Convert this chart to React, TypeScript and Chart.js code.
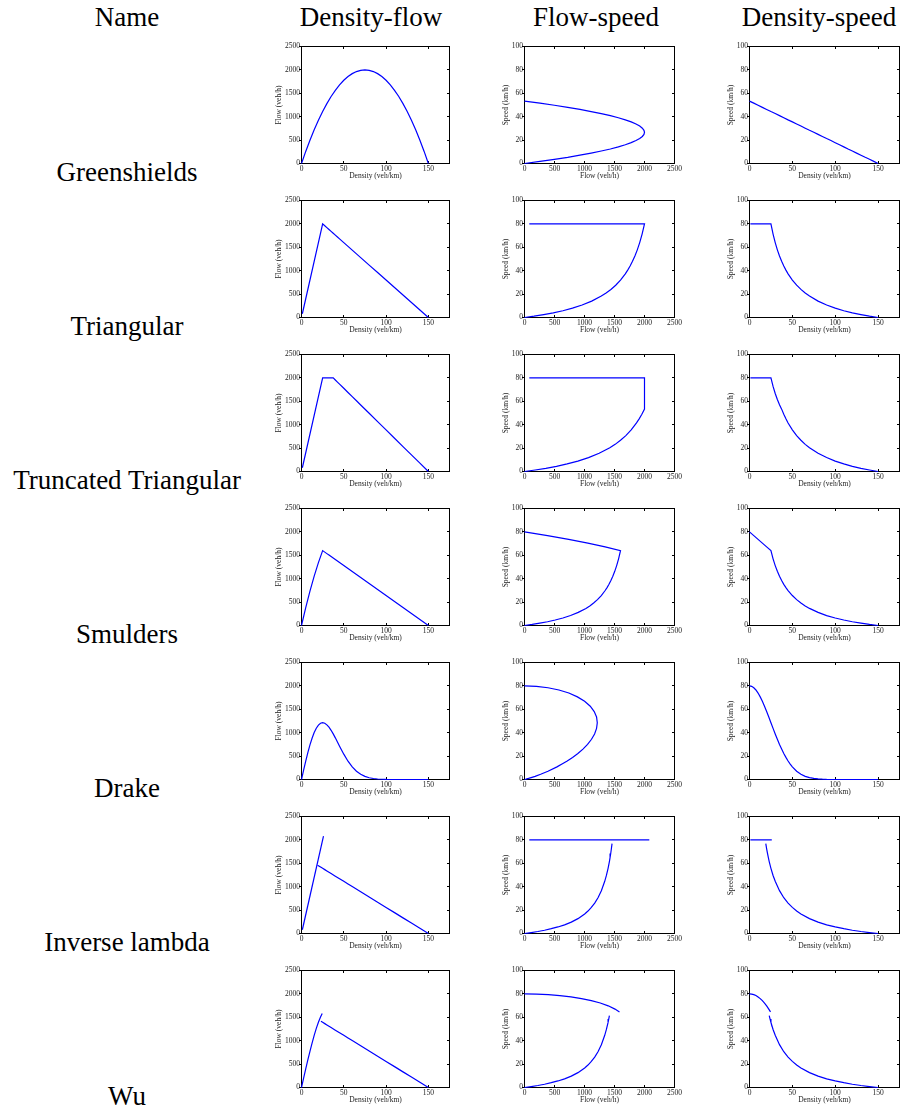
import React, { useEffect, useRef } from 'react';
import { Chart, registerables } from 'chart.js';
Chart.register(...registerables);

// ---------- text ----------
const COLUMN_HEADERS = ['Name', 'Density-flow', 'Flow-speed', 'Density-speed'];
const MODEL_NAMES = ['Greenshields', 'Triangular', 'Truncated Triangular', 'Smulders', 'Drake', 'Inverse lambda', 'Wu'];

// ---------- ticks ----------
const DENSITY_TICKS = [0, 50, 100, 150];
const FLOW_TICKS = [0, 500, 1000, 1500, 2000, 2500];
const SPEED_TICKS = [0, 20, 40, 60, 80, 100];
const DENSITY_MAX = 175;
const FLOW_MAX = 2500;
const SPEED_MAX = 100;
const DENSITY_TITLE = 'Density (veh/km)';
const FLOW_TITLE = 'Flow (veh/h)';
const SPEED_TITLE = 'Speed (km/h)';

// ---------- data: density k (veh/km), flow q (veh/h), speed v (km/h) ----------
// Greenshields
const GS_K = [0, 5, 10, 15, 20, 25, 30, 35, 40, 45, 50, 55, 60, 65, 70, 75, 80, 85, 90, 95, 100, 105, 110, 115, 120, 125, 130, 135, 140, 145, 150];
const GS_Q = [0, 258, 498, 720, 924, 1111, 1280, 1431, 1564, 1680, 1778, 1858, 1920, 1964, 1991, 2000, 1991, 1964, 1920, 1858, 1778, 1680, 1564, 1431, 1280, 1111, 924, 720, 498, 258, 0];
const GS_V = [53.3, 51.6, 49.8, 48.0, 46.2, 44.4, 42.7, 40.9, 39.1, 37.3, 35.6, 33.8, 32.0, 30.2, 28.4, 26.7, 24.9, 23.1, 21.3, 19.6, 17.8, 16.0, 14.2, 12.4, 10.7, 8.9, 7.1, 5.3, 3.6, 1.8, 0];

// Triangular
const TRI_K = [1, 25, 27.5, 30, 32.5, 35, 37.5, 40, 42.5, 45, 50, 55, 60, 65, 70, 80, 90, 100, 110, 120, 130, 140, 150];
const TRI_Q = [80, 2000, 1960, 1920, 1880, 1840, 1800, 1760, 1720, 1680, 1600, 1520, 1440, 1360, 1280, 1120, 960, 800, 640, 480, 320, 160, 0];
const TRI_V = [80, 80, 71.3, 64, 57.8, 52.6, 48, 44, 40.5, 37.3, 32, 27.6, 24, 20.9, 18.3, 14, 10.7, 8, 5.8, 4, 2.5, 1.1, 0];

// Truncated triangular
const TT_K = [1, 25, 27.5, 30, 32.5, 35, 37.5, 40, 42.5, 45, 50, 55, 60, 65, 70, 80, 90, 100, 110, 120, 130, 140, 150];
const TT_Q = [80, 2000, 2000, 2000, 2000, 2000, 2000, 1956, 1911, 1867, 1778, 1689, 1600, 1511, 1422, 1244, 1067, 889, 711, 533, 356, 178, 0];
const TT_V = [80, 80, 72.7, 66.7, 61.5, 57.1, 53.3, 48.9, 45.0, 41.5, 35.6, 30.7, 26.7, 23.2, 20.3, 15.6, 11.9, 8.9, 6.5, 4.4, 2.7, 1.3, 0];

// Smulders
const SM_K = [0, 5, 10, 15, 20, 25, 27.5, 30, 32.5, 35, 37.5, 40, 42.5, 45, 50, 55, 60, 65, 70, 80, 90, 100, 110, 120, 130, 140, 150];
const SM_Q = [0, 384, 736, 1056, 1344, 1600, 1568, 1536, 1504, 1472, 1440, 1408, 1376, 1344, 1280, 1216, 1152, 1088, 1024, 896, 768, 640, 512, 384, 256, 128, 0];
const SM_V = [80, 76.8, 73.6, 70.4, 67.2, 64, 57.0, 51.2, 46.3, 42.1, 38.4, 35.2, 32.4, 29.9, 25.6, 22.1, 19.2, 16.7, 14.6, 11.2, 8.5, 6.4, 4.7, 3.2, 2.0, 0.9, 0];

// Drake
const DR_K = [0, 2.5, 5, 7.5, 10, 12.5, 15, 17.5, 20, 22.5, 25, 27.5, 30, 32.5, 35, 37.5, 40, 42.5, 45, 47.5, 50, 55, 60, 65, 70, 75, 80, 85, 90, 100, 150];
const DR_Q = [0, 199, 392, 574, 739, 882, 1002, 1096, 1162, 1201, 1213, 1201, 1168, 1117, 1051, 974, 890, 801, 712, 625, 541, 391, 269, 177, 111, 67, 38, 21, 11, 3, 0];
const DR_V = [80, 79.6, 78.4, 76.5, 73.9, 70.6, 66.8, 62.6, 58.1, 53.4, 48.5, 43.7, 38.9, 34.4, 30.0, 26.0, 22.2, 18.9, 15.8, 13.2, 10.8, 7.1, 4.5, 2.7, 1.6, 0.9, 0.5, 0.25, 0.1, 0, 0];

// Inverse lambda
const IL_FREE_K = [1, 26];
const IL_FREE_Q = [80, 2080];
const IL_FREE_V = [80, 80];
const IL_CONG_K = [19, 20, 21, 22, 23, 25, 27.5, 30, 35, 40, 45, 50, 55, 60, 70, 80, 90, 100, 110, 120, 130, 140, 150];
const IL_CONG_Q = [1459, 1448, 1437, 1426, 1415, 1393, 1365, 1337, 1281, 1225, 1170, 1114, 1058, 1003, 891, 780, 668, 557, 446, 334, 223, 111, 0];
const IL_CONG_V = [76.8, 72.4, 68.4, 64.8, 61.5, 55.7, 49.6, 44.6, 36.6, 30.6, 26.0, 22.3, 19.2, 16.7, 12.7, 9.7, 7.4, 5.6, 4.1, 2.8, 1.7, 0.8, 0];

// Wu
const WU_FREE_K = [0, 2.5, 5, 7.5, 10, 12.5, 15, 17.5, 20, 22.5, 24.5];
const WU_FREE_Q = [0, 200, 397, 589, 774, 950, 1114, 1263, 1395, 1508, 1583];
const WU_FREE_V = [80, 79.8, 79.4, 78.6, 77.4, 76.0, 74.2, 72.2, 69.8, 67.0, 64.6];
const WU_CONG_K = [23, 24, 25, 27.5, 30, 35, 40, 45, 50, 55, 60, 70, 80, 90, 100, 110, 120, 130, 140, 150];
const WU_CONG_Q = [1415, 1404, 1393, 1365, 1337, 1281, 1225, 1170, 1114, 1058, 1003, 891, 780, 668, 557, 446, 334, 223, 111, 0];
const WU_CONG_V = [61.5, 58.5, 55.7, 49.6, 44.6, 36.6, 30.6, 26.0, 22.3, 19.2, 16.7, 12.7, 9.7, 7.4, 5.6, 4.1, 2.8, 1.7, 0.8, 0];

type Branch = { k: number[]; q: number[]; v: number[] };
const MODEL_BRANCHES: Branch[][] = [
  [{ k: GS_K, q: GS_Q, v: GS_V }],
  [{ k: TRI_K, q: TRI_Q, v: TRI_V }],
  [{ k: TT_K, q: TT_Q, v: TT_V }],
  [{ k: SM_K, q: SM_Q, v: SM_V }],
  [{ k: DR_K, q: DR_Q, v: DR_V }],
  [{ k: IL_FREE_K, q: IL_FREE_Q, v: IL_FREE_V }, { k: IL_CONG_K, q: IL_CONG_Q, v: IL_CONG_V }],
  [{ k: WU_FREE_K, q: WU_FREE_Q, v: WU_FREE_V }, { k: WU_CONG_K, q: WU_CONG_Q, v: WU_CONG_V }],
];

// ---------- layout ----------
const BOX_LEFTS = [301, 524, 749];
const BOX_WIDTHS = [149, 151, 151];
const BOX_TOP0 = 46;
const ROW_PITCH = 154;
const BOX_H = 118;
const PAD_L = 40;
const PAD_T = 8;
const PAD_R = 12;
const PAD_B = 24;
const SMALL_FONT = '"Liberation Serif", "Times New Roman", serif';
const BIG_FONT = '"Liberation Serif", "Times New Roman", serif';
const HEADER_CENTERS = [127, 371, 596, 819];
const LABEL_CX = 127;

type AxisDef = { ticks: number[]; max: number; title: string; yOffset: number };
const AX_DENSITY: AxisDef = { ticks: DENSITY_TICKS, max: DENSITY_MAX, title: DENSITY_TITLE, yOffset: 22 };
const AX_FLOW: AxisDef = { ticks: FLOW_TICKS, max: FLOW_MAX, title: FLOW_TITLE, yOffset: 22 };
const AX_SPEED: AxisDef = { ticks: SPEED_TICKS, max: SPEED_MAX, title: SPEED_TITLE, yOffset: 18 };

const half = (p: number) => Math.round(p - 0.5) + 0.5;

const framePlugin = {
  id: 'frame',
  beforeDatasetsDraw(chart: any, _args: any, opts: any) {
    const { ctx, chartArea } = chart;
    const { left, top, right, bottom } = chartArea;
    const xs = chart.scales.x;
    const ys = chart.scales.y;
    ctx.save();
    ctx.strokeStyle = '#000';
    ctx.lineWidth = 1;
    ctx.strokeRect(left, top, right - left, bottom - top);
    const T = 2.5;
    ctx.beginPath();
    for (const t of xs.ticks) {
      const px = Math.min(Math.max(half(xs.getPixelForValue(t.value)), left), right);
      ctx.moveTo(px, bottom);
      ctx.lineTo(px, bottom - T);
      ctx.moveTo(px, top);
      ctx.lineTo(px, top + T);
    }
    for (const t of ys.ticks) {
      const py = Math.min(Math.max(half(ys.getPixelForValue(t.value)), top), bottom);
      ctx.moveTo(left - T, py);
      ctx.lineTo(left, py);
      ctx.moveTo(right, py);
      ctx.lineTo(right - T, py);
    }
    ctx.stroke();
    ctx.fillStyle = '#222';
    ctx.font = '7.5px ' + SMALL_FONT;
    ctx.textAlign = 'center';
    ctx.textBaseline = 'middle';
    ctx.fillText(opts.xTitle, (left + right) / 2, bottom + 12.5);
    ctx.translate(left - opts.yOffset, (top + bottom) / 2);
    ctx.rotate(-Math.PI / 2);
    ctx.fillText(opts.yTitle, 0, 0);
    ctx.restore();
  },
};

function Cell({ row, col }: { row: number; col: number }) {
  const ref = useRef<HTMLCanvasElement | null>(null);
  const w = BOX_WIDTHS[col];
  const cw = PAD_L + w + PAD_R;
  const ch = PAD_T + BOX_H + PAD_B;
  const left = BOX_LEFTS[col] - PAD_L;
  const top = BOX_TOP0 + row * ROW_PITCH - PAD_T;

  useEffect(() => {
    const xAx = col === 1 ? AX_FLOW : AX_DENSITY;
    const yAx = col === 0 ? AX_FLOW : AX_SPEED;
    const branches = MODEL_BRANCHES[row];
    const datasets = branches.map((b) => {
      const X = col === 1 ? b.q : b.k;
      const Y = col === 0 ? b.q : b.v;
      return {
        data: X.map((xv, i) => ({ x: xv, y: Y[i] })),
        showLine: true,
        borderColor: '#0000ff',
        borderWidth: 1.2,
        pointRadius: 0,
        fill: false,
        tension: 0,
        clip: 2,
      };
    });
    const tickFont = { family: SMALL_FONT, size: 7.5 };
    const chart = new Chart(ref.current as HTMLCanvasElement, {
      type: 'scatter',
      data: { datasets } as any,
      options: {
        animation: false,
        responsive: false,
        events: [],
        // chart-area edges sit on pixel centres so the frame is crisp and y=0 / x=0 data lie on it
        layout: { padding: { left: 0, top: PAD_T + 0.5, right: PAD_R + 0.5, bottom: 0 } },
        plugins: {
          legend: { display: false },
          tooltip: { enabled: false },
          frame: { xTitle: xAx.title, yTitle: yAx.title, yOffset: yAx.yOffset },
        } as any,
        scales: {
          x: {
            type: 'linear',
            position: 'bottom',
            min: 0,
            max: xAx.max,
            grid: { display: false, drawTicks: false },
            border: { display: false },
            ticks: {
              font: tickFont,
              color: '#222',
              padding: 1,
              maxRotation: 0,
              autoSkip: false,
              callback: (v: any) => String(v),
            },
            afterBuildTicks: (s: any) => {
              s.ticks = xAx.ticks.map((value) => ({ value }));
            },
            afterFit: (s: any) => {
              s.height = PAD_B + 0.5;
              s.paddingLeft = 0;
              s.paddingRight = 0;
            },
          },
          y: {
            type: 'linear',
            position: 'left',
            min: 0,
            max: yAx.max,
            grid: { display: false, drawTicks: false },
            border: { display: false },
            ticks: {
              font: tickFont,
              color: '#222',
              padding: 1.5,
              autoSkip: false,
              callback: (v: any) => String(v),
            },
            afterBuildTicks: (s: any) => {
              s.ticks = yAx.ticks.map((value) => ({ value }));
            },
            afterFit: (s: any) => {
              s.width = PAD_L + 0.5;
              s.paddingTop = 0;
              s.paddingBottom = 0;
            },
          },
        },
      } as any,
      plugins: [framePlugin as any],
    });
    return () => chart.destroy();
  }, [row, col]);

  return (
    <canvas
      ref={ref}
      width={cw}
      height={ch}
      style={{ position: 'absolute', left, top, width: cw, height: ch }}
    />
  );
}

const textStyle = (cx: number, top: number): React.CSSProperties => ({
  position: 'absolute',
  left: cx - 160,
  width: 320,
  top,
  textAlign: 'center',
  fontFamily: BIG_FONT,
  fontSize: 27,
  lineHeight: '27px',
  whiteSpace: 'nowrap',
  color: '#000',
});

export default function App() {
  return (
    <div
      style={{
        position: 'absolute',
        left: 0,
        top: 0,
        width: 904,
        height: 1112,
        overflow: 'hidden',
        background: '#fff',
      }}
    >
      {COLUMN_HEADERS.map((h, i) => (
        <div key={'h' + i} style={textStyle(HEADER_CENTERS[i], 4)}>
          {h}
        </div>
      ))}
      {MODEL_NAMES.map((n, r) => (
        <div key={'n' + r} style={textStyle(LABEL_CX, 159 + r * ROW_PITCH)}>
          {n}
        </div>
      ))}
      {MODEL_NAMES.map((_, r) =>
        [0, 1, 2].map((c) => <Cell key={r + '-' + c} row={r} col={c} />)
      )}
    </div>
  );
}
